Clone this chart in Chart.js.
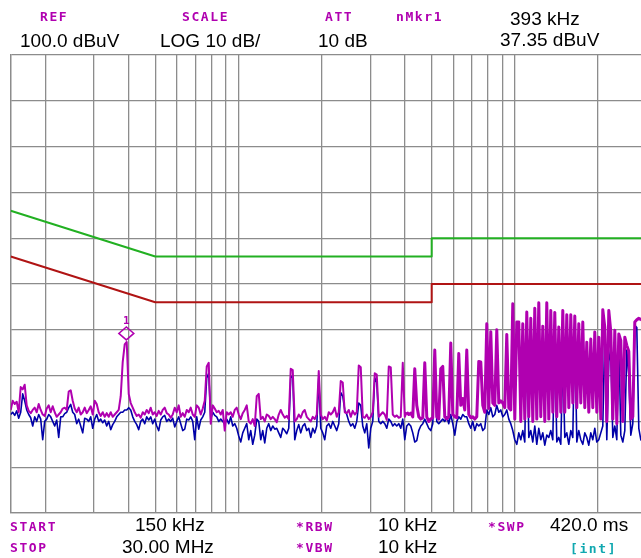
<!DOCTYPE html>
<html>
<head>
<meta charset="utf-8">
<script src="https://cdn.jsdelivr.net/npm/chart.js@4.4.1/dist/chart.umd.min.js"></script>
<style>
  html, body { margin: 0; padding: 0; background: #fff; overflow: hidden; }
  #wrap { position: relative; width: 641px; height: 558px; overflow: hidden; }
  #plot { position: absolute; left: 0; top: 0; width: 660px; height: 558px; }
  .lbl { position: absolute; font: bold 13px "DejaVu Sans Mono", monospace; letter-spacing: 1.6px;
         color: #b000b0; white-space: nowrap; transform: translateY(-50%); }
  .val { position: absolute; font: 19px "Liberation Sans", Arial, sans-serif; color: #000;
         white-space: nowrap; transform: translateY(-50%); }
  .cyan { color: #10a8b0; }
</style>
</head>
<body>
<div id="wrap">
  <div id="plot"><canvas id="c"></canvas></div>

  <!-- header -->
  <div class="lbl" style="left:40px; top:16px">REF</div>
  <div class="lbl" style="left:182px; top:16px">SCALE</div>
  <div class="lbl" style="left:325px; top:16px">ATT</div>
  <div class="lbl" style="left:396px; top:16px">nMkr1</div>
  <div class="val" style="left:510px; top:19px">393 kHz</div>
  <div class="val" style="left:20px; top:41px">100.0 dBuV</div>
  <div class="val" style="left:160px; top:41px">LOG 10 dB/</div>
  <div class="val" style="left:318px; top:41px">10 dB</div>
  <div class="val" style="left:500px; top:40px">37.35 dBuV</div>

  <!-- footer -->
  <div class="lbl" style="left:10px; top:526px">START</div>
  <div class="val" style="left:135px; top:525px">150 kHz</div>
  <div class="lbl" style="left:296px; top:526px">*RBW</div>
  <div class="val" style="left:378px; top:525px">10 kHz</div>
  <div class="lbl" style="left:488px; top:526px">*SWP</div>
  <div class="val" style="left:550px; top:525px">420.0 ms</div>
  <div class="lbl" style="left:10px; top:547px">STOP</div>
  <div class="val" style="left:122px; top:547px">30.00 MHz</div>
  <div class="lbl" style="left:296px; top:547px">*VBW</div>
  <div class="val" style="left:378px; top:547px">10 kHz</div>
  <div class="lbl cyan" style="left:570px; top:548px">[int]</div>
</div>

<script>
// sweep settings (kHz) and display range (dBuV)
const START_KHZ = 150;
const STOP_KHZ = 30000;
const REF_LEVEL = 100;
const BOTTOM_LEVEL = 0;

// marker 1
const MARKER_KHZ = 393;
const MARKER_DBUV = 37.35;

// vertical grid lines of the log frequency axis
const gridKHz = [150, 200, 300, 400, 500, 600, 700, 800, 900, 1000,
                 2000, 3000, 4000, 5000, 6000, 7000, 8000, 9000, 10000, 20000, 30000];

// limit lines (EN 55022 class B style): quasi-peak and average
const limitKHz = [150, 500, 5000, 5000, 30000];
const qpLimit  = [66, 56, 56, 60, 60];
const avLimit  = [56, 46, 46, 50, 50];

// peak trace, one value per sweep point (dBuV)
const peakTrace = [
  22.5, 24.5, 23.8, 24.3, 22.0, 27.5, 27.0, 28.0, 23.5, 22.3,
  21.8, 22.5, 23.0, 22.0, 23.8, 22.5, 21.5, 21.2, 22.8, 23.5,
  22.0, 23.3, 22.0, 21.0, 21.5, 22.0, 22.8, 23.0, 22.5, 26.5,
  26.8, 24.5, 22.8, 22.0, 23.0, 21.5, 22.0, 23.0, 21.8, 22.5,
  23.3, 21.5, 24.5, 23.8, 22.0, 21.2, 22.0, 21.0, 21.8, 21.0,
  22.0, 21.0, 21.5, 22.0, 22.5, 25.5, 33.0, 36.8, 37.35, 26.0,
  24.0, 23.0, 22.0, 21.2, 21.5, 20.8, 22.0, 21.5, 22.5, 21.8,
  23.0, 21.5, 22.0, 21.2, 22.3, 21.5, 22.5, 23.0, 21.8, 21.5,
  20.8, 21.5, 23.0, 22.0, 23.5, 21.0, 21.8, 21.0, 22.5, 22.0,
  23.0, 21.5, 21.0, 23.5, 23.0, 21.5, 22.8, 24.5, 32.0, 32.8,
  19.5, 23.5, 22.8, 22.0, 22.3, 21.5, 22.5, 18.0, 22.0, 21.5,
  22.0, 21.0, 22.5, 23.0, 21.5, 20.5, 21.8, 22.5, 23.5, 20.0,
  19.5, 20.5, 19.0, 25.5, 26.0, 20.5, 21.0, 20.0, 21.5, 21.2,
  20.5, 21.0, 20.5, 19.8, 21.5, 22.5, 21.5, 20.8, 21.2, 20.5,
  31.5, 31.2, 20.0, 20.5, 21.5, 20.8, 22.0, 22.5, 21.0, 20.5,
  20.0, 21.0, 20.5, 21.5, 31.0, 21.5, 20.5, 21.0, 20.2, 22.0,
  21.5, 22.0, 23.0, 21.0, 22.0, 28.8, 28.5, 22.0, 21.8, 22.5,
  21.0, 22.3, 21.5, 22.0, 32.2, 31.8, 21.0, 20.8, 21.5, 20.5,
  21.0, 22.0, 30.5, 30.2, 21.0, 21.5, 22.0, 21.5, 20.3, 32.0,
  31.8, 21.5, 21.0, 21.3, 20.8, 21.0, 32.8, 21.0, 22.0, 21.5,
  21.8, 21.0, 31.5, 23.5, 21.0, 20.5, 20.8, 32.8, 21.0, 20.0,
  20.5, 20.8, 35.6, 21.0, 20.5, 31.5, 32.0, 21.0, 20.5, 21.0,
  37.1, 21.5, 21.0, 20.8, 34.8, 23.5, 25.0, 22.5, 35.6, 21.5,
  20.8, 21.0, 20.5, 21.0, 33.1, 33.0, 23.5, 22.0, 41.3, 22.8,
  39.6, 24.0, 23.5, 40.0, 24.0, 24.5, 24.0, 23.0, 39.0, 23.0,
  22.5, 45.7, 20.5, 41.7, 41.7, 20.0, 41.3, 20.5, 43.9, 21.0,
  42.5, 20.0, 44.7, 20.5, 45.9, 21.0, 40.8, 20.0, 45.9, 20.5,
  44.2, 22.0, 43.8, 21.0, 40.6, 22.0, 44.2, 22.0, 43.3, 23.0,
  43.3, 24.0, 43.0, 23.0, 41.3, 24.0, 41.7, 23.0, 37.3, 22.0,
  38.0, 23.0, 39.5, 22.0, 38.4, 20.5, 44.4, 40.6, 20.0, 44.2,
  39.6, 20.5, 39.9, 19.5, 39.1, 37.7, 20.0, 38.4, 36.6, 35.3,
  20.5, 21.0, 41.7, 42.2, 42.5, 42.3, 42.0, 41.5, 41.0
];

// average trace, same sweep points (dBuV)
const avgTrace = [
  21.5, 22.0, 21.3, 22.3, 20.7, 22.0, 26.0, 24.5, 22.5, 21.5,
  20.8, 19.0, 21.0, 20.0, 21.5, 20.5, 16.0, 20.0, 20.5, 21.5,
  21.0, 20.0, 19.0, 20.3, 16.5, 21.0, 21.0, 21.7, 22.0, 23.0,
  23.7, 22.0, 21.5, 19.5, 20.5, 19.0, 17.5, 20.7, 20.5, 20.0,
  21.0, 18.5, 20.5, 21.5, 20.0, 20.5, 19.7, 20.3, 19.0, 20.0,
  18.2, 19.3, 20.0, 21.0, 21.5, 22.0, 22.0, 22.5, 22.5, 23.0,
  22.5, 21.0, 20.0, 19.3, 18.2, 20.0, 20.5, 19.5, 21.0, 20.3,
  21.0, 19.5, 20.5, 19.0, 18.0, 20.3, 21.0, 21.3, 20.0, 20.5,
  20.0, 20.7, 18.8, 20.0, 21.0, 19.5, 18.0, 18.3, 20.5, 20.3,
  21.0, 20.0, 16.0, 21.0, 18.3, 20.3, 21.0, 22.0, 29.5, 30.5,
  20.5, 22.0, 21.3, 21.0, 20.0, 20.5, 20.0, 19.5, 20.5, 19.5,
  21.0, 19.0, 19.5, 18.5, 16.8, 15.5, 17.5, 18.5, 19.5, 16.0,
  18.0, 15.0, 17.0, 20.5, 20.0, 16.0, 18.0, 15.3, 18.5, 19.5,
  18.0, 19.0, 18.3, 18.5, 17.5, 16.5, 18.5, 18.0, 17.3, 18.5,
  29.5, 30.0, 16.0, 18.0, 19.3, 17.5, 19.0, 19.5, 18.0, 18.5,
  16.5, 18.5, 17.5, 19.0, 29.5, 18.5, 17.5, 16.0, 19.0, 19.5,
  18.5, 20.0, 19.0, 18.0, 19.5, 26.3, 25.5, 22.5, 21.5, 20.0,
  19.0, 19.5, 18.5, 20.0, 24.0, 23.5, 19.0, 17.5, 19.5, 14.2,
  18.5, 20.0, 29.5, 28.5, 20.0, 19.5, 20.0, 19.5, 18.5, 20.5,
  20.0, 19.0, 19.5, 19.0, 19.5, 18.5, 20.5, 16.0, 19.0, 19.5,
  19.0, 17.5, 15.5, 15.8, 18.0, 19.0, 19.5, 20.5, 19.5, 18.5,
  18.0, 19.5, 33.3, 20.0, 19.5, 20.0, 20.5, 20.0, 21.0, 19.5,
  21.5, 19.5, 17.0, 20.0, 21.0, 20.5, 21.5, 21.0, 21.0, 19.5,
  18.5, 20.0, 18.0, 19.5, 19.0, 19.5, 18.0, 18.5, 22.5, 21.5,
  23.0, 21.0, 21.5, 23.5, 22.0, 22.5, 21.0, 21.5, 22.5, 20.5,
  19.5, 18.0, 16.0, 15.0, 17.5, 16.0, 18.0, 15.5, 42.0, 16.5,
  18.0, 15.5, 19.0, 15.0, 18.5, 16.0, 17.5, 14.8, 17.0, 16.5,
  18.0, 16.0, 38.0, 15.5, 16.5, 15.0, 34.0, 16.5, 17.5, 15.0,
  18.0, 16.5, 41.5, 15.5, 18.0, 16.0, 15.0, 17.5, 16.5, 14.8,
  17.5, 16.0, 18.5, 15.5, 16.0, 17.5, 19.0, 39.5, 16.0, 33.0,
  36.0, 16.5, 19.0, 16.0, 39.0, 17.0, 15.5, 18.0, 35.6, 30.0,
  17.0, 19.5, 41.0, 40.5, 18.5, 16.0, 15.5, 17.0, 18.0
];

// sweep points are spaced evenly on the log frequency axis between START and STOP
const sweepKHz = peakTrace.map((_, i) =>
  START_KHZ * Math.pow(STOP_KHZ / START_KHZ, i / (peakTrace.length - 1)));

const toXY = (xs, ys) => xs.map((x, i) => ({ x: x, y: ys[i] }));

const MAGENTA = '#b000b0';
const GRID = '#8c8c8c';
const DENSE_FROM_KHZ = 4000;   // above this the peak trace is drawn heavier

// diamond marker and its number above the peak
const markerPlugin = {
  id: 'marker1',
  afterDatasetsDraw(chart) {
    const { ctx, scales } = chart;
    const px = scales.x.getPixelForValue(MARKER_KHZ);
    const py = scales.y.getPixelForValue(MARKER_DBUV);
    ctx.save();
    ctx.strokeStyle = MAGENTA;
    ctx.lineWidth = 1.5;
    ctx.beginPath();
    ctx.moveTo(px, py - 2);
    ctx.lineTo(px + 7.5, py - 8.5);
    ctx.lineTo(px, py - 15);
    ctx.lineTo(px - 7.5, py - 8.5);
    ctx.closePath();
    ctx.stroke();
    ctx.fillStyle = MAGENTA;
    ctx.font = 'bold 11px "DejaVu Sans Mono"';
    ctx.textAlign = 'center';
    ctx.fillText('1', px, py - 18);
    ctx.restore();
  }
};

const lineStyle = { pointRadius: 0, borderJoinStyle: 'round', tension: 0, fill: false };

new Chart(document.getElementById('c'), {
  type: 'line',
  data: {
    datasets: [
      {
        ...lineStyle, data: toXY(sweepKHz, peakTrace), borderColor: MAGENTA, borderWidth: 2, order: 0,
        segment: { borderWidth: ctx => ctx.p0.parsed.x >= DENSE_FROM_KHZ ? 3 : 2 }
      },
      { ...lineStyle, data: toXY(sweepKHz, avgTrace), borderColor: '#0000a8', borderWidth: 1.6, order: 1 },
      { ...lineStyle, data: toXY(limitKHz, qpLimit), borderColor: '#22b022', borderWidth: 2, order: 2 },
      { ...lineStyle, data: toXY(limitKHz, avLimit), borderColor: '#b01414', borderWidth: 2, order: 2 }
    ]
  },
  options: {
    animation: false,
    responsive: true,
    maintainAspectRatio: false,
    layout: { padding: { left: 10.7, right: 13.2, top: 55, bottom: 45 } },
    plugins: { legend: { display: false }, tooltip: { enabled: false } },
    scales: {
      x: {
        type: 'logarithmic',
        min: START_KHZ,
        max: STOP_KHZ,
        afterBuildTicks: s => { s.ticks = gridKHz.map(v => ({ value: v })); },
        afterFit: s => { s.height = 0; },
        ticks: { display: false },
        grid: { color: GRID, lineWidth: 1.3, drawTicks: false },
        border: { color: GRID, width: 1.3 }
      },
      y: {
        min: BOTTOM_LEVEL,
        max: REF_LEVEL,
        afterFit: s => { s.width = 0; },
        ticks: { display: false, stepSize: 10 },
        grid: { color: GRID, lineWidth: 1.3, drawTicks: false },
        border: { color: GRID, width: 1.3 }
      }
    }
  },
  plugins: [markerPlugin]
});
</script>
</body>
</html>
